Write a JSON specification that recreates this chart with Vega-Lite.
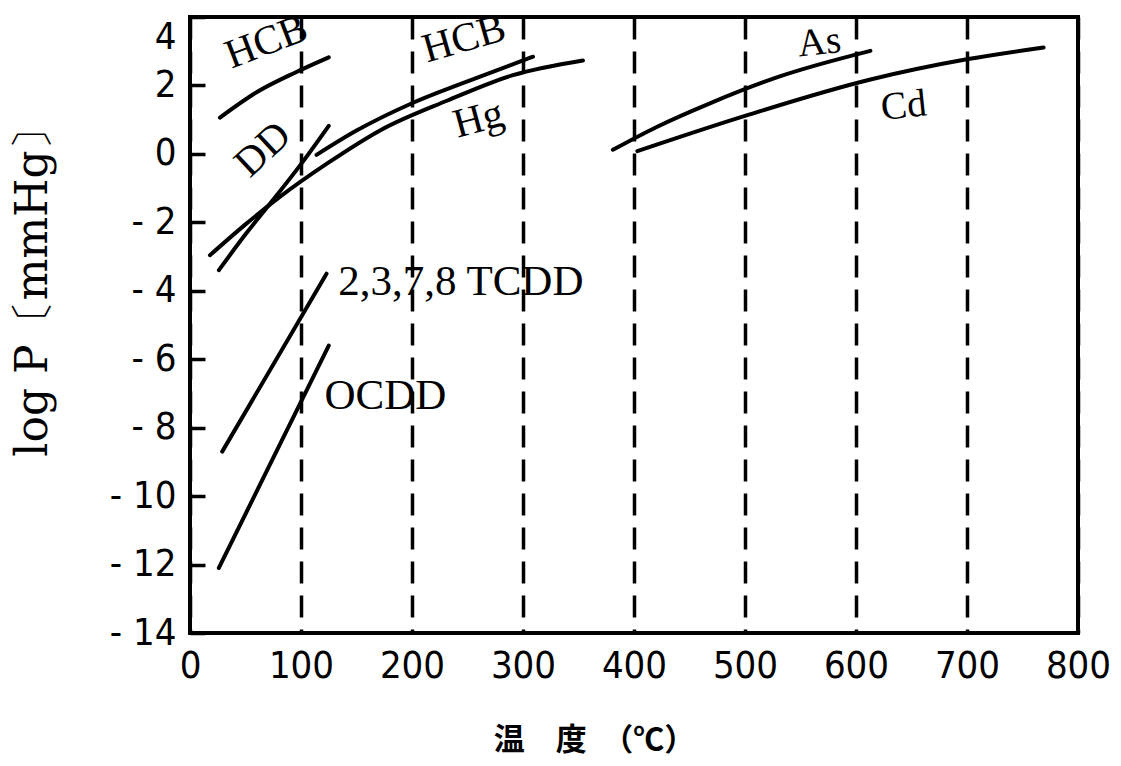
{
  "$schema": "https://vega.github.io/schema/vega-lite/v6.json",
  "autosize": "none",
  "width": 888,
  "height": 616,
  "padding": {"left": 190, "top": 17, "right": 43, "bottom": 133},
  "background": "white",
  "config": {
    "view": {"stroke": "black", "strokeWidth": 4},
    "axis": {"labelColor": "black", "titleColor": "black", "labelFont": "DejaVu Sans Condensed", "titleFontWeight": "normal"}
  },
  "datasets": {
    "curves": [
      {"series": "HCB1", "T": 27, "logP": 1.06},
      {"series": "HCB1", "T": 60, "logP": 1.8},
      {"series": "HCB1", "T": 95, "logP": 2.38},
      {"series": "HCB1", "T": 125, "logP": 2.82},
      {"series": "DD", "T": 26, "logP": -3.4},
      {"series": "DD", "T": 50, "logP": -2.35},
      {"series": "DD", "T": 74, "logP": -1.38},
      {"series": "DD", "T": 100, "logP": -0.3},
      {"series": "DD", "T": 125, "logP": 0.82},
      {"series": "Hg", "T": 18, "logP": -2.96},
      {"series": "Hg", "T": 50, "logP": -2.06},
      {"series": "Hg", "T": 80, "logP": -1.28},
      {"series": "Hg", "T": 125, "logP": -0.25},
      {"series": "Hg", "T": 172, "logP": 0.7},
      {"series": "Hg", "T": 232, "logP": 1.56},
      {"series": "Hg", "T": 291, "logP": 2.3},
      {"series": "Hg", "T": 354, "logP": 2.73},
      {"series": "HCB2", "T": 114, "logP": -0.03},
      {"series": "HCB2", "T": 150, "logP": 0.68},
      {"series": "HCB2", "T": 200, "logP": 1.48},
      {"series": "HCB2", "T": 250, "logP": 2.12},
      {"series": "HCB2", "T": 309, "logP": 2.84},
      {"series": "TCDD", "T": 29, "logP": -8.7},
      {"series": "TCDD", "T": 123, "logP": -3.5},
      {"series": "OCDD", "T": 26, "logP": -12.1},
      {"series": "OCDD", "T": 125, "logP": -5.6},
      {"series": "As", "T": 381, "logP": 0.12},
      {"series": "As", "T": 420, "logP": 0.78},
      {"series": "As", "T": 470, "logP": 1.5},
      {"series": "As", "T": 530, "logP": 2.25},
      {"series": "As", "T": 613, "logP": 3.01},
      {"series": "Cd", "T": 403, "logP": 0.08},
      {"series": "Cd", "T": 500, "logP": 1.11},
      {"series": "Cd", "T": 614, "logP": 2.18},
      {"series": "Cd", "T": 701, "logP": 2.77},
      {"series": "Cd", "T": 769, "logP": 3.11}
    ],
    "labels": [
      {"key": "HCB1", "text": "HCB", "T": 69, "logP": 3.26},
      {"key": "DD", "text": "DD", "T": 66, "logP": 0.12},
      {"key": "HCB2", "text": "HCB", "T": 247, "logP": 3.35},
      {"key": "Hg", "text": "Hg", "T": 260, "logP": 1.0},
      {"key": "As", "text": "As", "T": 567, "logP": 3.26},
      {"key": "Cd", "text": "Cd", "T": 643, "logP": 1.41},
      {"key": "TCDD", "text": "2,3,7,8 TCDD", "T": 244, "logP": -3.73},
      {"key": "OCDD", "text": "OCDD", "T": 176, "logP": -7.07}
    ]
  },
  "layer": [
    {
      "data": {"name": "curves"},
      "mark": {"type": "line", "color": "black", "strokeWidth": 4, "interpolate": "monotone", "strokeCap": "round"},
      "encoding": {
        "x": {
          "field": "T", "type": "quantitative",
          "scale": {"domain": [0, 800], "nice": false, "zero": false},
          "axis": {
            "values": [0, 100, 200, 300, 400, 500, 600, 700, 800],
            "grid": true, "gridColor": "black", "gridWidth": 3.5, "gridDash": [22, 12],
            "ticks": false, "domain": false,
            "labelFontSize": 38, "labelPadding": 14, "labelFlush": false,
            "title": "温　度　（℃）",
            "titleFont": "Noto Sans CJK JP", "titleFontSize": 31, "titleFontWeight": "bold",
            "titleX": 404, "titleY": 107, "titleBaseline": "middle", "titleAlign": "center"
          }
        },
        "y": {
          "field": "logP", "type": "quantitative",
          "scale": {"domain": [-14, 4], "nice": false, "zero": false},
          "axis": {
            "values": [-14, -12, -10, -8, -6, -4, -2, 0, 2, 4],
            "grid": false, "domain": false, "offset": -15,
            "ticks": true, "tickSize": 15, "tickWidth": 3.5, "tickColor": "black",
            "labelFontSize": 38, "labelPadding": 14, "labelFlush": false,
            "labelOffset": {"condition": {"test": "datum.value === 4", "value": 20}, "value": 0},
            "labelExpr": "datum.value < 0 ? '- ' + abs(datum.value) : datum.label",
            "title": "log P〔mmHg〕",
            "titleFont": "DejaVu Serif", "titleFontSize": 44,
            "titleAngle": -90, "titleX": -172, "titleY": 264, "titleAlign": "center", "titleBaseline": "middle"
          }
        },
        "detail": {"field": "series", "type": "nominal"}
      }
    },
    {
      "data": {"name": "labels"},
      "transform": [{"filter": "datum.key === 'HCB1'"}],
      "mark": {"type": "text", "font": "Liberation Serif", "fontSize": 41, "angle": -21, "color": "black"},
      "encoding": {"x": {"field": "T", "type": "quantitative"}, "y": {"field": "logP", "type": "quantitative"}, "text": {"field": "text"}}
    },
    {
      "data": {"name": "labels"},
      "transform": [{"filter": "datum.key === 'DD'"}],
      "mark": {"type": "text", "font": "Liberation Serif", "fontSize": 41, "angle": -43, "color": "black"},
      "encoding": {"x": {"field": "T", "type": "quantitative"}, "y": {"field": "logP", "type": "quantitative"}, "text": {"field": "text"}}
    },
    {
      "data": {"name": "labels"},
      "transform": [{"filter": "datum.key === 'HCB2'"}],
      "mark": {"type": "text", "font": "Liberation Serif", "fontSize": 41, "angle": -16, "color": "black"},
      "encoding": {"x": {"field": "T", "type": "quantitative"}, "y": {"field": "logP", "type": "quantitative"}, "text": {"field": "text"}}
    },
    {
      "data": {"name": "labels"},
      "transform": [{"filter": "datum.key === 'Hg'"}],
      "mark": {"type": "text", "font": "Liberation Serif", "fontSize": 41, "angle": -15, "color": "black"},
      "encoding": {"x": {"field": "T", "type": "quantitative"}, "y": {"field": "logP", "type": "quantitative"}, "text": {"field": "text"}}
    },
    {
      "data": {"name": "labels"},
      "transform": [{"filter": "datum.key === 'As' || datum.key === 'Cd'"}],
      "mark": {"type": "text", "font": "Liberation Serif", "fontSize": 39, "angle": -6, "color": "black"},
      "encoding": {"x": {"field": "T", "type": "quantitative"}, "y": {"field": "logP", "type": "quantitative"}, "text": {"field": "text"}}
    },
    {
      "data": {"name": "labels"},
      "transform": [{"filter": "datum.key === 'TCDD' || datum.key === 'OCDD'"}],
      "mark": {"type": "text", "font": "Liberation Serif", "fontSize": 43, "color": "black"},
      "encoding": {"x": {"field": "T", "type": "quantitative"}, "y": {"field": "logP", "type": "quantitative"}, "text": {"field": "text"}}
    }
  ]
}
